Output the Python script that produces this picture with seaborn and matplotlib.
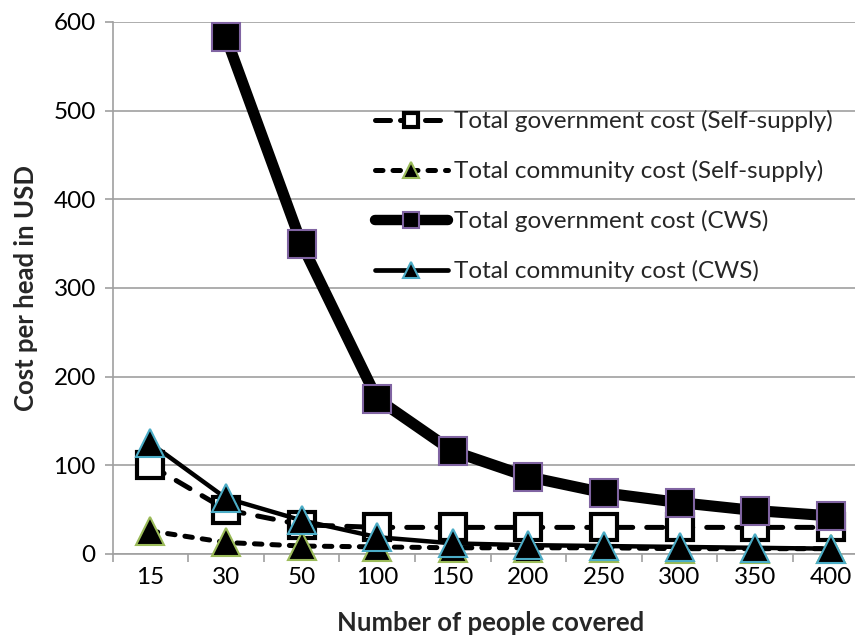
import numpy as np
import pandas as pd
import matplotlib
matplotlib.use("Agg")
import matplotlib.pyplot as plt
from matplotlib.lines import Line2D
import seaborn as sns

# ---- data ----
people = ["15", "30", "50", "100", "150", "200", "250", "300", "350", "400"]
gov_self = [100, 50, 33, 30, 30, 30, 30, 30, 30, 30]
comm_self = [26, 13, 9, 8, 7, 7, 7, 6, 6, 6]
gov_cws = [np.nan, 583, 350, 175, 116, 87, 69, 58, 49, 43]
comm_cws = [125, 63, 38, 19, 12, 10, 9, 8, 7, 6]
labels = [
    "Total government cost (Self-supply)",
    "Total community cost (Self-supply)",
    "Total government cost (CWS)",
    "Total community cost (CWS)",
]
yticks = [0, 100, 200, 300, 400, 500, 600]

sns.set_theme(style="white")
plt.rcParams["font.family"] = ["Lato", "DejaVu Sans"]

GRAY = "#A0A0A0"
FS = 17.5
fig = plt.figure(figsize=(8.55, 6.41), dpi=100)
ax = fig.add_axes([112.5 / 855, 1 - 554 / 641, 756 / 855, 532 / 641])

df = pd.DataFrame({"x": people, "gs": gov_self, "cs": comm_self,
                   "gc": gov_cws, "cc": comm_cws})

styles = [
    dict(y="gs", color="black", lw=3.6, ls=(0, (3.2, 2.8)), dash_capstyle="round",
         marker="s", ms=18.5, mfc="white", mec="black", mew=3.0, zorder=2),
    dict(y="cs", color="black", lw=3.6, ls=(0, (1.5, 2.0)), dash_capstyle="round",
         marker="^", ms=20, mfc="black", mec="#9BBB59", mew=1.5, zorder=3),
    dict(y="gc", color="black", lw=8.0, ls="-", solid_capstyle="round",
         marker="s", ms=20, mfc="black", mec="#8064A2", mew=1.5, zorder=4),
    dict(y="cc", color="black", lw=3.2, ls="-", solid_capstyle="round",
         marker="^", ms=20, mfc="black", mec="#4BACC6", mew=1.5, zorder=5),
]

for st in styles:
    st = dict(st)
    ycol = st.pop("y")
    sns.lineplot(data=df, x="x", y=ycol, ax=ax, sort=False, errorbar=None,
                 color=st.pop("color"), linewidth=st.pop("lw"),
                 linestyle=st.pop("ls"), marker=st.pop("marker"),
                 markersize=st.pop("ms"), markerfacecolor=st.pop("mfc"),
                 markeredgecolor=st.pop("mec"), markeredgewidth=st.pop("mew"),
                 clip_on=False, **st)

ax.set_xlim(-0.5, 9.5)
ax.set_ylim(0, 600)
ax.set_yticks(yticks)
ax.set_xticks(range(len(people)))
ax.set_xticklabels(people)
ax.set_xticks(np.arange(-0.5, 10.0, 1.0), minor=True)

ax.yaxis.grid(True, color=GRAY, linewidth=1.2)
ax.xaxis.grid(False)
ax.set_axisbelow(True)
for s in ["top", "right"]:
    ax.spines[s].set_visible(False)
for s in ["left", "bottom"]:
    ax.spines[s].set_color(GRAY)
    ax.spines[s].set_linewidth(1.2)

ax.tick_params(axis="x", which="major", length=0, pad=9, labelsize=FS, colors="black")
ax.tick_params(axis="x", which="minor", length=6, width=1.2, color=GRAY, bottom=True)
ax.tick_params(axis="y", which="major", length=6, width=1.2, color=GRAY, left=True,
               labelsize=FS, labelcolor="black", pad=6)

ax.set_xlabel("Number of people covered", fontsize=18.5, fontweight="bold", labelpad=17)
ax.set_ylabel("Cost per head in USD", fontsize=18.5, fontweight="bold", labelpad=11)

handles = [
    Line2D([], [], color="black", lw=3.6, ls=(0, (3.0, 2.0)), dash_capstyle="round",
           marker="s", ms=10, mfc="white", mec="black", mew=3.0),
    Line2D([], [], color="black", lw=3.6, ls=(0, (1.5, 2.0)), dash_capstyle="round",
           marker="^", ms=11, mfc="black", mec="#9BBB59", mew=1.5),
    Line2D([], [], color="black", lw=7.5, ls="-", solid_capstyle="round",
           marker="s", ms=11, mfc="black", mec="#8064A2", mew=1.5),
    Line2D([], [], color="black", lw=3.4, ls="-", solid_capstyle="round",
           marker="^", ms=11, mfc="black", mec="#4BACC6", mew=1.5),
]
leg = fig.legend(handles, labels, loc="upper left",
                 bbox_to_anchor=(375 / 855, 1 - 110 / 641),
                 frameon=False, fontsize=FS, handlelength=3.0,
                 handletextpad=0.25, labelspacing=1.15, borderpad=0,
                 borderaxespad=0)

fig.savefig("out.png", dpi=100)
